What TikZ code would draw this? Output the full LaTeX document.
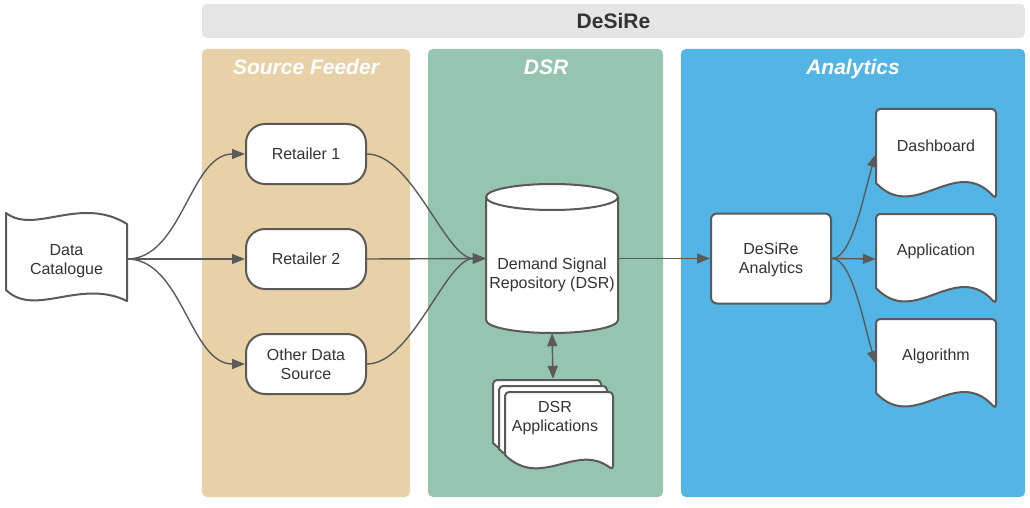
\documentclass[tikz,border=0pt]{standalone}
\usepackage{fontspec}
\setmainfont{Liberation Sans}
\usepackage{tikz}
\usetikzlibrary{arrows.meta}

\definecolor{linegray}{HTML}{5A5A5A}
\definecolor{textgray}{HTML}{333333}
\definecolor{bargray}{HTML}{E5E5E5}
\definecolor{feedtan}{HTML}{E8D1A7}
\definecolor{dsrgreen}{HTML}{95C4B1}
\definecolor{anablue}{HTML}{52B5E6}

\begin{document}
\begin{tikzpicture}[x=1pt,y=-1pt,
    lane/.style={fill=#1, rounded corners=5pt},
    lanetitle/.style={text=white, anchor=base, font=\fontsize{21}{25}\selectfont\bfseries\itshape},
    boxtext/.style={text=textgray, align=center, font=\fontsize{16}{19}\selectfont, inner sep=0pt},
    box/.style={boxtext, draw=linegray, line width=2pt, fill=white},
    ghost/.style={boxtext, minimum width=#1},
    outline/.style={draw=linegray, line width=2pt, fill=white, line join=round},
    link/.style={draw=linegray, line width=1.4pt, -{Triangle[length=13pt,width=10pt]}},
    twolink/.style={draw=linegray, line width=1.4pt, {Triangle[length=13pt,width=10pt]}-{Triangle[length=13pt,width=10pt]}},
]
\useasboundingbox (0,0) rectangle (1030,508);

% lanes
\fill[bargray, rounded corners=5pt] (202,4) rectangle (1025,38);
\node[font=\fontsize{21}{25}\selectfont\bfseries, text=textgray] (toptitle) at (613.5,21) {DeSiRe};
\fill[lane=feedtan] (202,49) rectangle (410,497);
\fill[lane=dsrgreen] (428,49) rectangle (663,497);
\fill[lane=anablue] (681,49) rectangle (1025,497);
\node[lanetitle] (feedtitle) at (306,75) {Source Feeder};
\node[lanetitle] (dsrtitle) at (546,75) {DSR};
\node[lanetitle] (anatitle) at (853,75) {Analytics};

% data catalogue (tape)
\draw[outline] (6,213) .. controls (35,235) and (80,195) .. (127,224) -- (127,301)
    .. controls (80,278) and (35,318) .. (6,290) -- cycle;
\node[ghost=121pt, minimum height=80pt] (cat) at (66.5,259) {};
\node[boxtext] (cattext) at (66.5,261) {Data\\Catalogue};

% retailers
\node[box, rounded corners=19pt, minimum width=120pt, minimum height=60pt] (ret1) at (306,154) {Retailer 1};
\node[box, rounded corners=19pt, minimum width=120pt, minimum height=60pt] (ret2) at (306,259) {Retailer 2};
\node[box, rounded corners=19pt, minimum width=120pt, minimum height=60pt] (other) at (306,364) {Other Data\\Source};

% repository (cylinder)
\draw[outline] (486,197) -- (486,320) arc[start angle=180, end angle=0, x radius=66, y radius=13]
    -- (618,197) arc[start angle=0, end angle=-180, x radius=66, y radius=13] -- cycle;
\draw[outline, fill=none] (486,197) arc[start angle=180, end angle=0, x radius=66, y radius=13];
\node[ghost=132pt, minimum height=149pt] (dsr) at (552,258.5) {};
\node[boxtext] (dsrtext) at (552,274.5) {Demand Signal\\Repository (DSR)};

% dsr applications (stacked documents)
\foreach \dx in {0,6,12} {
  \draw[outline] (493+\dx,443+\dx) [rounded corners=4pt] -- (493+\dx,380+\dx) -- (601+\dx,380+\dx)
      -- (601+\dx,458+\dx) [sharp corners] .. controls (564+\dx,430+\dx) and (529+\dx,478+\dx) .. (493+\dx,443+\dx) -- cycle;
}
\node[ghost=120pt, minimum height=90pt] (apps) at (553,424) {};
\node[boxtext] (appstext) at (555,418.5) {DSR\\Applications};

% analytics
\node[box, rounded corners=6pt, minimum width=120pt, minimum height=90pt] (ana) at (771,258.5) {};
\node[boxtext] (anatext) at (771,260) {DeSiRe\\Analytics};

\foreach \nm/\txt/\yt in {dash/Dashboard/109, appl/Application/214, algo/Algorithm/319} {
  \draw[outline] (876,\yt+74) [rounded corners=4pt] -- (876,\yt) -- (996,\yt)
      -- (996,\yt+90) [sharp corners] .. controls (955,\yt+45) and (915,\yt+115) .. (876,\yt+74) -- cycle;
  \node[ghost=120pt, minimum height=90pt, label={[boxtext, yshift=8pt]center:\txt}] (\nm) at (936,\yt+45) {};
}

% connectors
\draw[link] (cat.east) .. controls +(55,0) and +(-55,0) .. (ret1.west);
\draw[link] (cat.east) -- (ret2.west);
\draw[link] (cat.east) .. controls +(55,0) and +(-55,0) .. (other.west);
\draw[link] (ret1.east) .. controls +(45,0) and +(-40,0) .. (dsr.west);
\draw[link] (ret2.east) -- (dsr.west);
\draw[link] (other.east) .. controls +(45,0) and +(-40,0) .. (dsr.west);
\draw[link] (dsr.east) -- (ana.west);
\draw[twolink] (dsr.south) -- (apps.north);
\draw[link] (ana.east) .. controls +(20,0) and +(-12,40) .. (dash.west);
\draw[link] (ana.east) -- (appl.west);
\draw[link] (ana.east) .. controls +(20,0) and +(-12,-40) .. (algo.west);

\end{tikzpicture}
\end{document}
